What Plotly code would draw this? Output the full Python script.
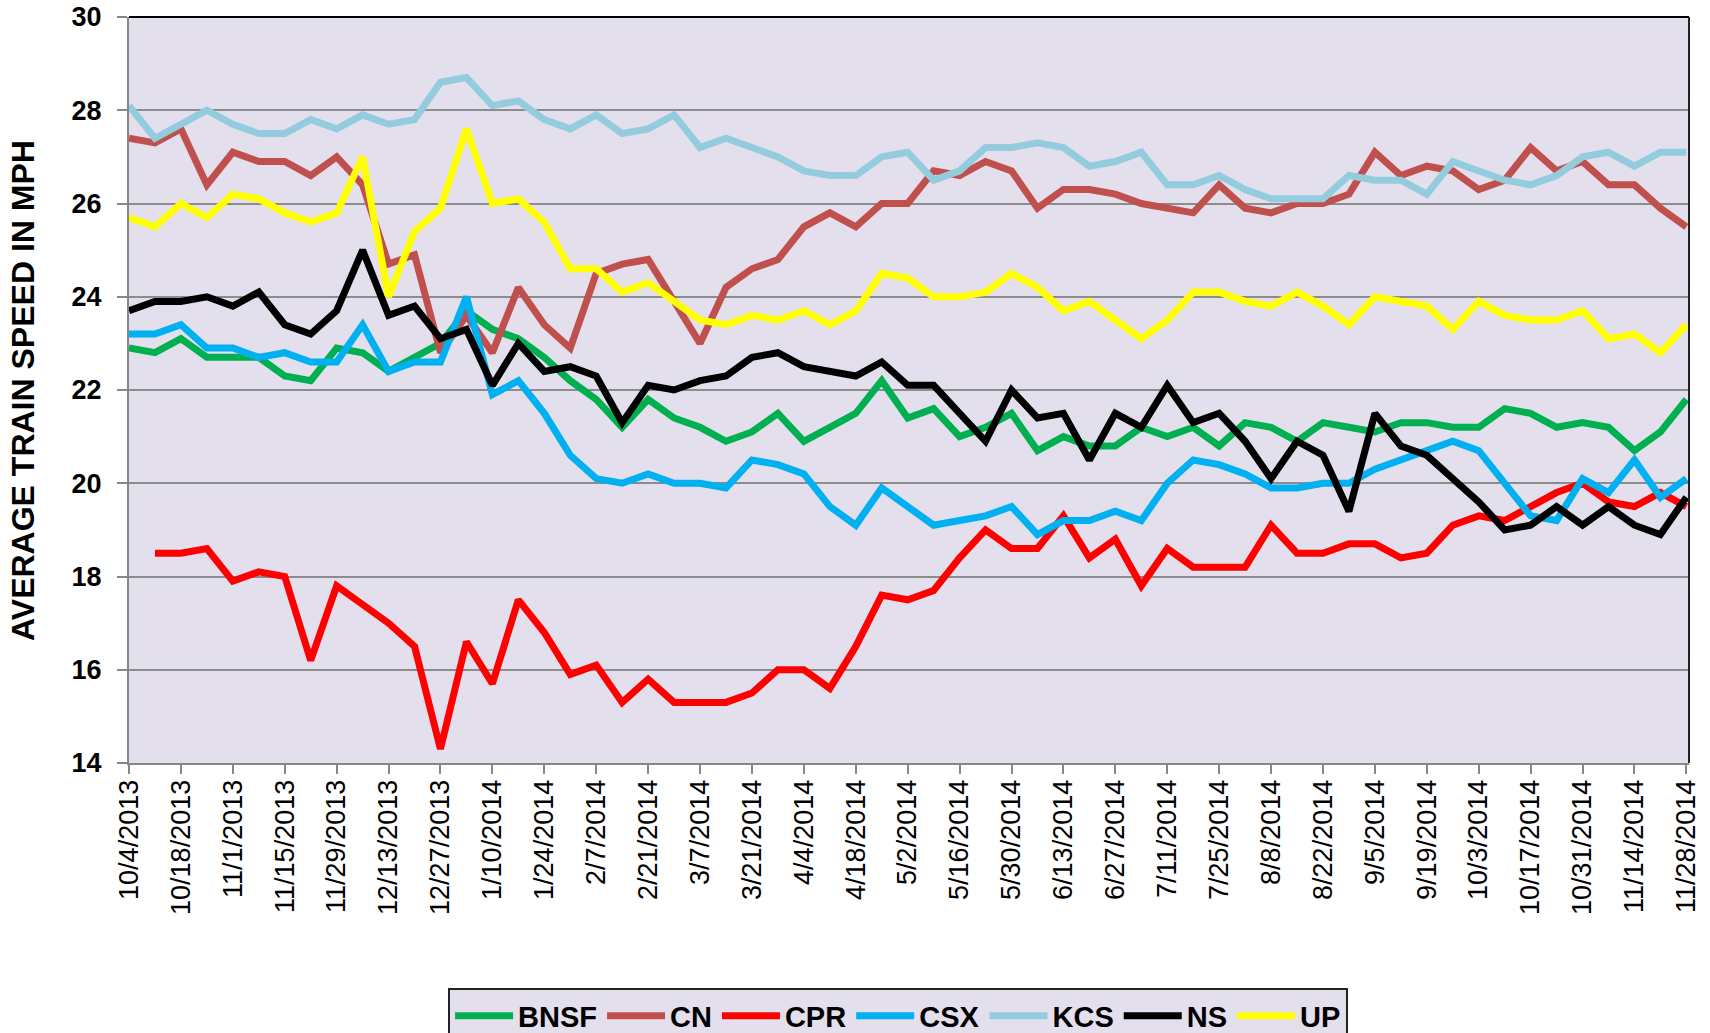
import pandas as pd
import plotly.graph_objects as go

# ---------------- data ----------------
weeks = pd.date_range("2013-10-04", periods=61, freq="7D")

tick_dates = ["2013-10-04", "2013-10-18", "2013-11-01", "2013-11-15", "2013-11-29",
              "2013-12-13", "2013-12-27", "2014-01-10", "2014-01-24", "2014-02-07",
              "2014-02-21", "2014-03-07", "2014-03-21", "2014-04-04", "2014-04-18",
              "2014-05-02", "2014-05-16", "2014-05-30", "2014-06-13", "2014-06-27",
              "2014-07-11", "2014-07-25", "2014-08-08", "2014-08-22", "2014-09-05",
              "2014-09-19", "2014-10-03", "2014-10-17", "2014-10-31", "2014-11-14",
              "2014-11-28"]
tick_labels = ["10/4/2013", "10/18/2013", "11/1/2013", "11/15/2013", "11/29/2013",
               "12/13/2013", "12/27/2013", "1/10/2014", "1/24/2014", "2/7/2014",
               "2/21/2014", "3/7/2014", "3/21/2014", "4/4/2014", "4/18/2014",
               "5/2/2014", "5/16/2014", "5/30/2014", "6/13/2014", "6/27/2014",
               "7/11/2014", "7/25/2014", "8/8/2014", "8/22/2014", "9/5/2014",
               "9/19/2014", "10/3/2014", "10/17/2014", "10/31/2014", "11/14/2014",
               "11/28/2014"]

bnsf = [22.9, 22.8, 23.1, 22.7, 22.7, 22.7, 22.3, 22.2, 22.9, 22.8,
        22.4, 22.7, 23.0, 23.7, 23.3, 23.1, 22.7, 22.2, 21.8, 21.2,
        21.8, 21.4, 21.2, 20.9, 21.1, 21.5, 20.9, 21.2, 21.5, 22.2,
        21.4, 21.6, 21.0, 21.2, 21.5, 20.7, 21.0, 20.8, 20.8, 21.2,
        21.0, 21.2, 20.8, 21.3, 21.2, 20.9, 21.3, 21.2, 21.1, 21.3,
        21.3, 21.2, 21.2, 21.6, 21.5, 21.2, 21.3, 21.2, 20.7, 21.1,
        21.8]
cn = [27.4, 27.3, 27.6, 26.4, 27.1, 26.9, 26.9, 26.6, 27.0, 26.4,
      24.7, 24.9, 22.8, 23.6, 22.8, 24.2, 23.4, 22.9, 24.5, 24.7,
      24.8, 23.9, 23.0, 24.2, 24.6, 24.8, 25.5, 25.8, 25.5, 26.0,
      26.0, 26.7, 26.6, 26.9, 26.7, 25.9, 26.3, 26.3, 26.2, 26.0,
      25.9, 25.8, 26.4, 25.9, 25.8, 26.0, 26.0, 26.2, 27.1, 26.6,
      26.8, 26.7, 26.3, 26.5, 27.2, 26.7, 26.9, 26.4, 26.4, 25.9,
      25.5]
cpr = [None, 18.5, 18.5, 18.6, 17.9, 18.1, 18.0, 16.2, 17.8, 17.4,
       17.0, 16.5, 14.3, 16.6, 15.7, 17.5, 16.8, 15.9, 16.1, 15.3,
       15.8, 15.3, 15.3, 15.3, 15.5, 16.0, 16.0, 15.6, 16.5, 17.6,
       17.5, 17.7, 18.4, 19.0, 18.6, 18.6, 19.3, 18.4, 18.8, 17.8,
       18.6, 18.2, 18.2, 18.2, 19.1, 18.5, 18.5, 18.7, 18.7, 18.4,
       18.5, 19.1, 19.3, 19.2, 19.5, 19.8, 20.0, 19.6, 19.5, 19.8,
       19.5]
csx = [23.2, 23.2, 23.4, 22.9, 22.9, 22.7, 22.8, 22.6, 22.6, 23.4,
       22.4, 22.6, 22.6, 24.0, 21.9, 22.2, 21.5, 20.6, 20.1, 20.0,
       20.2, 20.0, 20.0, 19.9, 20.5, 20.4, 20.2, 19.5, 19.1, 19.9,
       19.5, 19.1, 19.2, 19.3, 19.5, 18.9, 19.2, 19.2, 19.4, 19.2,
       20.0, 20.5, 20.4, 20.2, 19.9, 19.9, 20.0, 20.0, 20.3, 20.5,
       20.7, 20.9, 20.7, 20.0, 19.3, 19.2, 20.1, 19.8, 20.5, 19.7,
       20.1]
kcs = [28.1, 27.4, 27.7, 28.0, 27.7, 27.5, 27.5, 27.8, 27.6, 27.9,
       27.7, 27.8, 28.6, 28.7, 28.1, 28.2, 27.8, 27.6, 27.9, 27.5,
       27.6, 27.9, 27.2, 27.4, 27.2, 27.0, 26.7, 26.6, 26.6, 27.0,
       27.1, 26.5, 26.7, 27.2, 27.2, 27.3, 27.2, 26.8, 26.9, 27.1,
       26.4, 26.4, 26.6, 26.3, 26.1, 26.1, 26.1, 26.6, 26.5, 26.5,
       26.2, 26.9, 26.7, 26.5, 26.4, 26.6, 27.0, 27.1, 26.8, 27.1,
       27.1]
ns = [23.7, 23.9, 23.9, 24.0, 23.8, 24.1, 23.4, 23.2, 23.7, 25.0,
      23.6, 23.8, 23.1, 23.3, 22.1, 23.0, 22.4, 22.5, 22.3, 21.3,
      22.1, 22.0, 22.2, 22.3, 22.7, 22.8, 22.5, 22.4, 22.3, 22.6,
      22.1, 22.1, 21.5, 20.9, 22.0, 21.4, 21.5, 20.5, 21.5, 21.2,
      22.1, 21.3, 21.5, 20.9, 20.1, 20.9, 20.6, 19.4, 21.5, 20.8,
      20.6, 20.1, 19.6, 19.0, 19.1, 19.5, 19.1, 19.5, 19.1, 18.9,
      19.7]
up = [25.7, 25.5, 26.0, 25.7, 26.2, 26.1, 25.8, 25.6, 25.8, 27.0,
      24.0, 25.4, 25.9, 27.6, 26.0, 26.1, 25.6, 24.6, 24.6, 24.1,
      24.3, 23.9, 23.5, 23.4, 23.6, 23.5, 23.7, 23.4, 23.7, 24.5,
      24.4, 24.0, 24.0, 24.1, 24.5, 24.2, 23.7, 23.9, 23.5, 23.1,
      23.5, 24.1, 24.1, 23.9, 23.8, 24.1, 23.8, 23.4, 24.0, 23.9,
      23.8, 23.3, 23.9, 23.6, 23.5, 23.5, 23.7, 23.1, 23.2, 22.8,
      23.4]

series_names = ["BNSF", "CN", "CPR", "CSX", "KCS", "NS", "UP"]
series_values = [bnsf, cn, cpr, csx, kcs, ns, up]
series_colors = ["#00B050", "#C0504D", "#FF0000", "#00B0F0", "#93CDDD", "#000000", "#FFFF00"]

# ---------------- figure ----------------
FONT = "Liberation Sans, Arial, Helvetica, sans-serif"

fig = go.Figure()
for name, vals, col in zip(series_names, series_values, series_colors):
    fig.add_trace(go.Scatter(
        x=weeks, y=vals, name=name, mode="lines",
        line=dict(color=col, width=7),
        connectgaps=False,
    ))

fig.update_layout(
    width=1710, height=1033,
    margin=dict(l=129, r=21, t=17, b=270, autoexpand=False),
    paper_bgcolor="white",
    plot_bgcolor="#E4DFEC",
    font=dict(family=FONT, color="black"),
    showlegend=True,
    legend=dict(
        orientation="h",
        x=0.493, xanchor="center",
        y=-0.302, yanchor="top",
        bgcolor="#E4DFEC",
        bordercolor="#222222", borderwidth=2,
        font=dict(family=FONT, size=29, color="black", weight="bold"),
        itemwidth=58,
        itemsizing="trace",
        tracegroupgap=0,
    ),
    annotations=[dict(
        text="<b>AVERAGE TRAIN SPEED IN MPH</b>",
        xref="paper", yref="paper",
        x=-0.068, y=0.5, xanchor="center", yanchor="middle",
        textangle=-90, showarrow=False,
        font=dict(family=FONT, size=32, color="black"),
    )],
    shapes=[
        dict(type="line", xref="paper", yref="paper", x0=0, x1=1, y0=1, y1=1,
             line=dict(color="black", width=2), layer="above"),
        dict(type="line", xref="paper", yref="paper", x0=1, x1=1, y0=0, y1=1,
             line=dict(color="#222222", width=2), layer="above"),
    ],
)

fig.update_xaxes(
    type="date",
    range=[pd.Timestamp("2013-10-04"), pd.Timestamp("2014-11-28 17:00")],
    tickmode="array", tickvals=tick_dates, ticktext=tick_labels,
    tickangle=-90,
    tickfont=dict(family=FONT, size=27, color="black"),
    ticks="outside", ticklen=9, tickwidth=2, tickcolor="#868686",
    ticklabelstandoff=-5,
    showgrid=False, zeroline=False,
    showline=True, linecolor="#868686", linewidth=2,
)
fig.update_yaxes(
    range=[14, 30], dtick=2, tick0=14,
    tickfont=dict(family=FONT, size=27, color="black", weight="bold"),
    ticks="outside", ticklen=10, tickwidth=2, tickcolor="#868686",
    ticklabelstandoff=10,
    showgrid=True, gridcolor="#8C8C8C", gridwidth=1.5,
    zeroline=False,
    showline=True, linecolor="#868686", linewidth=2,
)

fig.write_html("out.html", config={"displayModeBar": False},
               post_script="document.body.style.margin='0px';")
